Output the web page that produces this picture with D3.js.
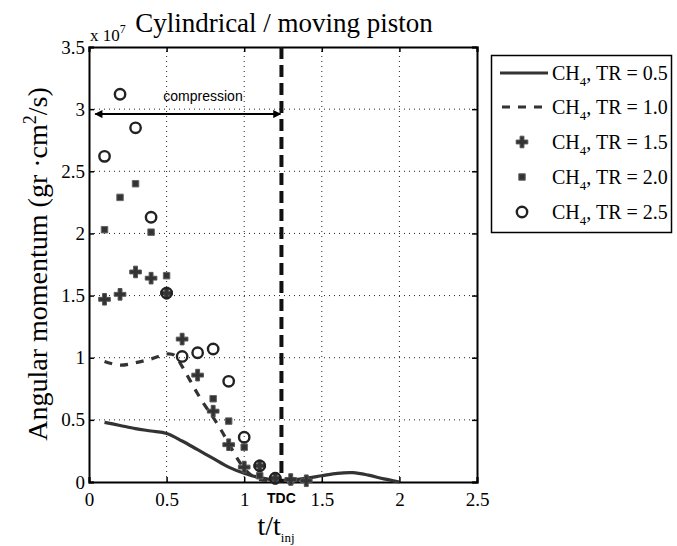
<!DOCTYPE html>
<html><head><meta charset="utf-8">
<script src="https://cdn.jsdelivr.net/npm/d3@7"></script>
<style>body{margin:0;background:#fff}svg{display:block}</style>
</head><body>
<svg id="c" width="677" height="546"></svg>
<script>
// ---- data (values in units of 1e7 gr·cm²/s) ----
const xTicks = [0, 0.5, 1, 1.5, 2, 2.5];
const yTicks = [0, 0.5, 1, 1.5, 2, 2.5, 3, 3.5];
const seriesNames = ["CH4, TR = 0.5", "CH4, TR = 1.0", "CH4, TR = 1.5", "CH4, TR = 2.0", "CH4, TR = 2.5"];
const tdcT = 1.24;
const compressionY = 2.96;

const tr05_t = [0.1, 0.2, 0.3, 0.4, 0.5, 0.6, 0.7, 0.8, 0.9, 1.0, 1.1, 1.2, 1.3, 1.4, 1.5, 1.6, 1.7, 1.8, 1.9, 2.0];
const tr05_v = [0.48, 0.455, 0.43, 0.41, 0.39, 0.33, 0.26, 0.19, 0.12, 0.07, 0.035, 0.015, 0.015, 0.03, 0.05, 0.07, 0.075, 0.055, 0.025, 0.0];

const tr10_t = [0.1, 0.2, 0.3, 0.4, 0.5, 0.55, 0.6, 0.65, 0.7, 0.75, 0.8, 0.85, 0.9, 0.95, 1.0, 1.05, 1.1, 1.2, 1.3, 1.4];
const tr10_v = [0.97, 0.94, 0.96, 0.99, 1.03, 1.02, 0.93, 0.82, 0.71, 0.61, 0.52, 0.42, 0.31, 0.2, 0.11, 0.05, 0.02, 0.01, 0.01, 0.01];

const tr15_t = [0.1, 0.2, 0.3, 0.4, 0.5, 0.6, 0.7, 0.8, 0.9, 1.0, 1.1, 1.2, 1.3, 1.4];
const tr15_v = [1.47, 1.51, 1.69, 1.64, 1.52, 1.15, 0.86, 0.57, 0.30, 0.12, 0.13, 0.03, 0.02, 0.01];

const tr20_t = [0.1, 0.2, 0.3, 0.4, 0.5, 0.8, 0.9, 1.0, 1.1, 1.2, 1.3];
const tr20_v = [2.03, 2.29, 2.40, 2.01, 1.66, 0.67, 0.49, 0.28, 0.05, 0.02, 0.01];

const tr25_t = [0.1, 0.2, 0.3, 0.4, 0.5, 0.6, 0.7, 0.8, 0.9, 1.0, 1.1, 1.2];
const tr25_v = [2.62, 3.12, 2.85, 2.13, 1.52, 1.01, 1.04, 1.07, 0.81, 0.36, 0.13, 0.03];

// ---- layout ----
const svg = d3.select("#c");
const x = d3.scaleLinear().domain([0, 2.5]).range([89, 477]);
const y = d3.scaleLinear().domain([0, 3.5]).range([482, 47]);
const serif = "'Liberation Serif','Times New Roman',serif";
const sans = "'Liberation Sans',Arial,sans-serif";

// grid (dotted)
const g = svg.append("g");
g.selectAll(".gx").data(xTicks.slice(1, -1)).enter().append("line")
  .attr("x1", d => x(d)).attr("x2", d => x(d)).attr("y1", y(0)).attr("y2", y(3.5))
  .attr("stroke", "#222").attr("stroke-width", 1).attr("stroke-dasharray", "1,4");
g.selectAll(".gy").data(yTicks.slice(1, -1)).enter().append("line")
  .attr("y1", d => y(d)).attr("y2", d => y(d)).attr("x1", x(0)).attr("x2", x(2.5))
  .attr("stroke", "#222").attr("stroke-width", 1).attr("stroke-dasharray", "1,4");

// axes
const fmt = d => String(d);
svg.append("g").attr("transform", `translate(0,${y(0)})`)
  .call(d3.axisBottom(x).tickValues(xTicks).tickFormat(fmt).tickSize(-5).tickPadding(11));
svg.append("g").attr("transform", `translate(${x(0)},0)`)
  .call(d3.axisLeft(y).tickValues(yTicks).tickFormat(fmt).tickSize(-5).tickPadding(4));
svg.append("g").attr("transform", `translate(0,${y(3.5)})`)
  .call(d3.axisTop(x).tickValues(xTicks).tickFormat("").tickSize(-5));
svg.append("g").attr("transform", `translate(${x(2.5)},0)`)
  .call(d3.axisRight(y).tickValues(yTicks).tickFormat("").tickSize(-5));
svg.selectAll(".domain").attr("stroke", "#000").attr("stroke-width", 2);
svg.selectAll(".tick line").attr("stroke", "#000").attr("stroke-width", 1.5);
svg.selectAll(".tick text").attr("font-family", serif).attr("font-size", 19).attr("fill", "#000");

// lines
const line = d3.line().x(d => x(d[0])).y(d => y(d[1])).curve(d3.curveCatmullRom.alpha(0.5));
svg.append("path").datum(d3.zip(tr05_t, tr05_v)).attr("d", line)
  .attr("fill", "none").attr("stroke", "#333").attr("stroke-width", 3.2);
svg.append("path").datum(d3.zip(tr10_t, tr10_v)).attr("d", line)
  .attr("fill", "none").attr("stroke", "#333").attr("stroke-width", 3.2).attr("stroke-dasharray", "8,8");

// markers
const plusSym = d3.symbol().type(d3.symbolCross).size(75);
const sqSym = d3.symbol().type(d3.symbolSquare).size(42);
function drawPlus(sel, t, v) {
  sel.selectAll(null).data(d3.zip(t, v)).enter().append("path")
    .attr("d", plusSym).attr("transform", d => `translate(${x(d[0])},${y(d[1])})`)
    .attr("fill", "#333").attr("stroke", "#555").attr("stroke-width", 1);
}
function drawSq(sel, t, v) {
  sel.selectAll(null).data(d3.zip(t, v)).enter().append("path")
    .attr("d", sqSym).attr("transform", d => `translate(${x(d[0])},${y(d[1])})`)
    .attr("fill", "#333").attr("stroke", "#666").attr("stroke-width", 1);
}
function drawCirc(sel, t, v) {
  sel.selectAll(null).data(d3.zip(t, v)).enter().append("circle")
    .attr("cx", d => x(d[0])).attr("cy", d => y(d[1])).attr("r", 5.2)
    .attr("fill", "none").attr("stroke", "#222").attr("stroke-width", 2.4);
}
const mk = svg.append("g");
drawSq(mk, tr20_t, tr20_v);
drawPlus(mk, tr15_t, tr15_v);
drawCirc(mk, tr25_t, tr25_v);

// TDC line
svg.append("line").attr("x1", x(tdcT)).attr("x2", x(tdcT)).attr("y1", y(3.5)).attr("y2", y(0))
  .attr("stroke", "#111").attr("stroke-width", 4).attr("stroke-dasharray", "12,6");
svg.append("text").attr("x", x(tdcT)).attr("y", 503).attr("text-anchor", "middle")
  .attr("font-family", sans).attr("font-weight", "bold").attr("font-size", 14).text("TDC");

// compression arrow
const defs = svg.append("defs");
defs.append("marker").attr("id", "ah").attr("viewBox", "0 0 10 10").attr("refX", 9).attr("refY", 5)
  .attr("markerWidth", 12).attr("markerHeight", 8).attr("markerUnits", "userSpaceOnUse").attr("orient", "auto-start-reverse")
  .append("path").attr("d", "M0,0 L10,5 L0,10 Z").attr("fill", "#000");
svg.append("line").attr("x1", x(0.04)).attr("x2", x(tdcT) - 1).attr("y1", y(compressionY)).attr("y2", y(compressionY))
  .attr("stroke", "#000").attr("stroke-width", 2)
  .attr("marker-start", "url(#ah)").attr("marker-end", "url(#ah)");
svg.append("text").attr("x", 203).attr("y", y(compressionY) - 13).attr("text-anchor", "middle")
  .attr("font-family", sans).attr("font-size", 14).text("compression");

// titles
const tt = svg.append("text").attr("x", 90).attr("y", 41).attr("font-family", serif).attr("font-size", 17);
tt.append("tspan").text("x 10");
tt.append("tspan").attr("dy", -8).attr("font-size", 12).text("7");
svg.append("text").attr("x", 284).attr("y", 32).attr("text-anchor", "middle")
  .attr("font-family", serif).attr("font-size", 27).text("Cylindrical / moving piston");

const yl = svg.append("text").attr("transform", "translate(47,264) rotate(-90)").attr("text-anchor", "middle")
  .attr("font-family", serif).attr("font-size", 28);
yl.append("tspan").text("Angular momentum (gr ·cm");
yl.append("tspan").attr("dy", -11).attr("font-size", 18).text("2");
yl.append("tspan").attr("dy", 11).text("/s)");

const xl = svg.append("text").attr("x", 276).attr("y", 535).attr("text-anchor", "middle")
  .attr("font-family", serif).attr("font-size", 28);
xl.append("tspan").text("t/t");
xl.append("tspan").attr("dy", 7).attr("font-size", 13).text("inj");

// legend
const lg = svg.append("g");
lg.append("rect").attr("x", 491.5).attr("y", 55.5).attr("width", 180).attr("height", 177)
  .attr("fill", "#fff").attr("stroke", "#000").attr("stroke-width", 1.5);
const rowsY = [73, 107, 142, 177, 212];
lg.append("line").attr("x1", 500).attr("x2", 548).attr("y1", rowsY[0]).attr("y2", rowsY[0])
  .attr("stroke", "#333").attr("stroke-width", 3.2);
lg.append("line").attr("x1", 500).attr("x2", 548).attr("y1", rowsY[1]).attr("y2", rowsY[1])
  .attr("stroke", "#333").attr("stroke-width", 3.2).attr("stroke-dasharray", "8,8").attr("stroke-dashoffset", -2);
lg.append("path").attr("d", plusSym).attr("transform", `translate(522,${rowsY[2]})`).attr("fill", "#333").attr("stroke", "#555");
lg.append("path").attr("d", sqSym).attr("transform", `translate(522,${rowsY[3]})`).attr("fill", "#333").attr("stroke", "#666");
lg.append("circle").attr("cx", 522).attr("cy", rowsY[4]).attr("r", 5.2).attr("fill", "none").attr("stroke", "#222").attr("stroke-width", 2.4);
seriesNames.forEach((n, i) => {
  const parts = n.split("4");
  const t = lg.append("text").attr("x", 552).attr("y", rowsY[i] + 7).attr("font-family", serif).attr("font-size", 20);
  t.append("tspan").text(parts[0]);
  t.append("tspan").attr("dy", 6).attr("font-size", 13).text("4");
  t.append("tspan").attr("dy", -6).text(parts[1]);
});
</script>
</body></html>
